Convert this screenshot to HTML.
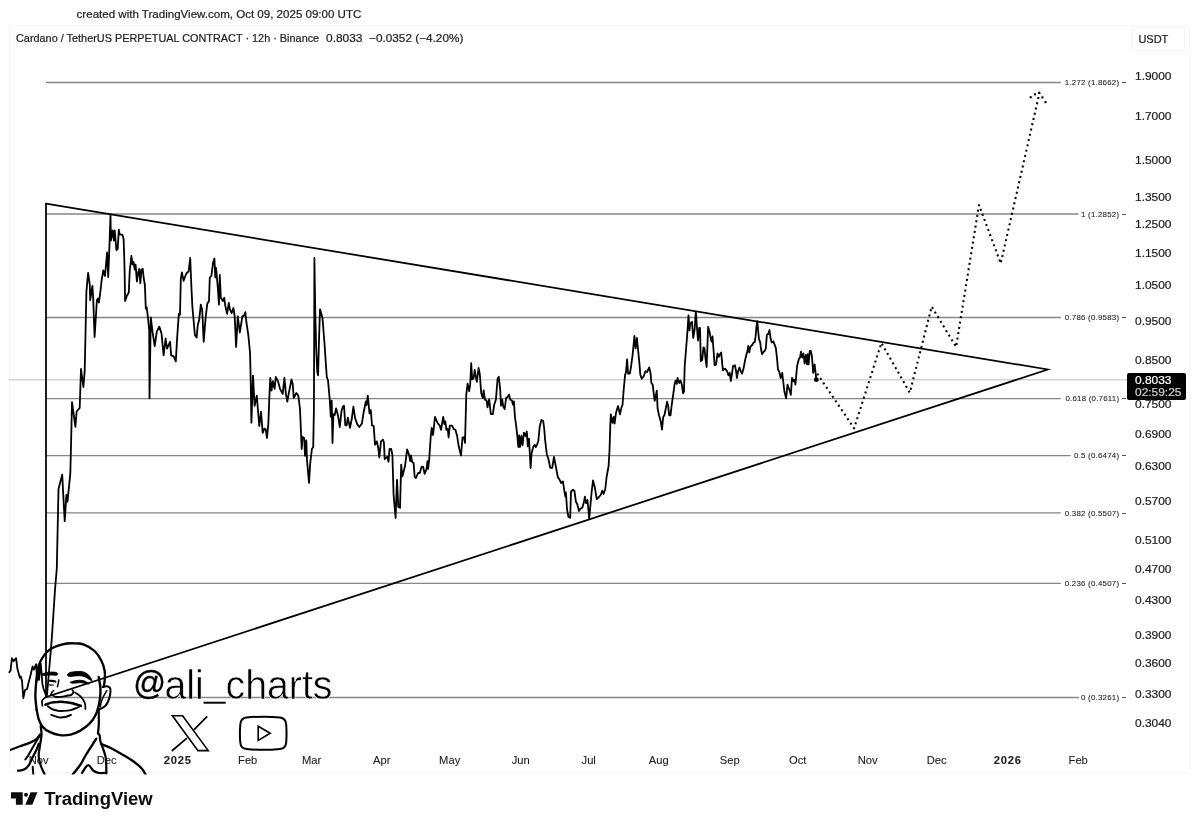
<!DOCTYPE html>
<html><head><meta charset="utf-8"><title>ADA chart</title>
<style>
html,body{margin:0;padding:0;background:#fff;}
body{width:1200px;height:826px;position:relative;overflow:hidden;font-family:"Liberation Sans",sans-serif;color:#1e1e1e;}
.t{position:absolute;white-space:nowrap;line-height:1;-webkit-text-stroke:0.22px currentColor;}
.ax{font-size:11px;left:1135px;transform:scaleX(1.085);transform-origin:0 50%;}
.tm{-webkit-text-stroke:0.1px currentColor;font-size:11.2px;transform:translateX(-50%);top:754.5px;}
.tm b{font-weight:700;letter-spacing:.8px;}
.fib{-webkit-text-stroke:0.08px currentColor;font-size:7.9px;color:#1c1c1c;text-align:right;right:73.5px;letter-spacing:.22px;}
svg{position:absolute;left:0;top:0;}
</style></head><body>

<div style="position:absolute;left:9px;top:25px;width:1181px;height:748px;border:1px solid #f7f7f7;box-sizing:border-box;"></div>
<div style="position:absolute;left:1131px;top:27.3px;width:53.5px;height:23.7px;border:1px solid #f4f4f4;border-radius:3px;box-sizing:border-box;"></div>
<div class="t" style="left:76.6px;top:9px;font-size:11.55px;">created with TradingView.com, Oct 09, 2025 09:00 UTC</div>
<div class="t" style="left:15.9px;top:33.4px;font-size:11.15px;transform:scaleX(.976);transform-origin:0 50%;">Cardano / TetherUS PERPETUAL CONTRACT · 12h · Binance</div>
<div class="t" style="left:326px;top:33.4px;font-size:11.15px;transform:scaleX(1.07);transform-origin:0 50%;">0.8033</div>
<div class="t" style="left:368.8px;top:33.4px;font-size:11.15px;transform:scaleX(1.058);transform-origin:0 50%;">−0.0352 (−4.20%)</div>
<div class="t" style="left:1138.4px;top:33.9px;font-size:11px;">USDT</div>
<div class="t ax" style="top:71.4px;">1.9000</div>
<div class="t ax" style="top:110.6px;">1.7000</div>
<div class="t ax" style="top:154.7px;">1.5000</div>
<div class="t ax" style="top:191.8px;">1.3500</div>
<div class="t ax" style="top:219.0px;">1.2500</div>
<div class="t ax" style="top:248.4px;">1.1500</div>
<div class="t ax" style="top:280.4px;">1.0500</div>
<div class="t ax" style="top:315.7px;">0.9500</div>
<div class="t ax" style="top:354.9px;">0.8500</div>
<div class="t ax" style="top:399.1px;">0.7500</div>
<div class="t ax" style="top:428.5px;">0.6900</div>
<div class="t ax" style="top:460.5px;">0.6300</div>
<div class="t ax" style="top:495.8px;">0.5700</div>
<div class="t ax" style="top:535.0px;">0.5100</div>
<div class="t ax" style="top:563.8px;">0.4700</div>
<div class="t ax" style="top:595.2px;">0.4300</div>
<div class="t ax" style="top:629.6px;">0.3900</div>
<div class="t ax" style="top:657.8px;">0.3600</div>
<div class="t ax" style="top:688.5px;">0.3300</div>
<div class="t ax" style="top:718.1px;">0.3040</div>
<div class="t tm" style="left:38.7px;">Nov</div>
<div class="t tm" style="left:106.7px;">Dec</div>
<div class="t tm" style="left:177.7px;"><b>2025</b></div>
<div class="t tm" style="left:247.7px;">Feb</div>
<div class="t tm" style="left:311.7px;">Mar</div>
<div class="t tm" style="left:381.7px;">Apr</div>
<div class="t tm" style="left:449.7px;">May</div>
<div class="t tm" style="left:520.7px;">Jun</div>
<div class="t tm" style="left:588.7px;">Jul</div>
<div class="t tm" style="left:658.7px;">Aug</div>
<div class="t tm" style="left:729.7px;">Sep</div>
<div class="t tm" style="left:797.7px;">Oct</div>
<div class="t tm" style="left:867.7px;">Nov</div>
<div class="t tm" style="left:936.7px;">Dec</div>
<div class="t tm" style="left:1007.7px;"><b>2026</b></div>
<div class="t tm" style="left:1078.2px;">Feb</div>
<svg width="1200" height="826" viewBox="0 0 1200 826">
<line x1="8.5" y1="379.85" x2="1127" y2="379.85" stroke="#d4d4d4" stroke-width="1.5"/>
<line x1="46" y1="82.5" x2="1060.8" y2="82.5" stroke="#868686" stroke-width="1.3"/>
<line x1="46" y1="214.0" x2="1078.5" y2="214.0" stroke="#868686" stroke-width="1.3"/>
<line x1="46" y1="317.5" x2="1060.8" y2="317.5" stroke="#868686" stroke-width="1.3"/>
<line x1="46" y1="398.7" x2="1060.8" y2="398.7" stroke="#868686" stroke-width="1.3"/>
<line x1="46" y1="455.7" x2="1070.5" y2="455.7" stroke="#868686" stroke-width="1.3"/>
<line x1="46" y1="512.8" x2="1060.8" y2="512.8" stroke="#868686" stroke-width="1.3"/>
<line x1="46" y1="583.4" x2="1060.8" y2="583.4" stroke="#868686" stroke-width="1.3"/>
<line x1="46" y1="697.5" x2="1079" y2="697.5" stroke="#868686" stroke-width="1.3"/>
<path d="M46,203.7 L1047.8,369.5 L46,697 Z" fill="none" stroke="#000" stroke-width="1.75" stroke-linejoin="miter" stroke-miterlimit="12"/>
<path d="M9.3,672.2 L10.6,670.5 L11.9,658.2 L13.6,661.2 L16.1,658.2 L17.4,668.8 L19.9,677.7 L20.8,676.4 L22.0,680.7 L23.3,698.0 L25.0,690.0 L27.1,689.0 L28.4,683.2 L30.5,675.6 L32.6,666.3 L33.9,669.7 L36.0,664.2 L37.3,680.7 L38.6,664.6 L39.0,679.8 L40.7,663.7 L41.5,672.2 L42.4,684.0 L43.6,689.0 L46.2,696.0 L47.0,695.0 L51.7,640.0 L55.1,588.5 L56.8,568.6 L58.5,489.0 L62.2,474.6 L64.7,521.2 L66.4,495.0 L67.5,501.7 L70.3,473.7 L70.8,455.0 L72.0,402.2 L75.4,426.8 L76.6,411.5 L79.7,408.0 L81.0,369.0 L83.4,387.0 L84.7,371.0 L85.6,330.0 L86.4,291.7 L88.1,273.0 L89.8,284.9 L90.2,300.2 L92.4,285.8 L93.2,298.5 L94.6,337.0 L96.9,300.2 L98.0,298.5 L98.8,302.7 L100.0,295.0 L101.7,279.8 L103.3,270.3 L105.0,276.0 L107.1,252.5 L108.2,277.0 L109.3,250.0 L110.5,214.7 L110.9,240.6 L112.6,230.4 L113.9,240.6 L114.7,230.4 L116.4,250.0 L117.7,249.0 L118.8,229.6 L119.8,234.7 L122.4,234.7 L123.6,239.0 L124.2,255.8 L124.6,271.4 L125.1,301.0 L126.8,296.0 L128.8,292.5 L129.7,271.4 L131.4,256.0 L132.5,264.6 L133.6,262.0 L134.7,269.7 L135.6,264.6 L136.9,281.5 L138.1,273.0 L139.3,268.8 L140.3,283.2 L141.5,269.7 L142.7,268.8 L143.7,278.0 L144.9,285.0 L145.8,308.6 L146.6,307.0 L147.5,313.7 L149.2,330.0 L149.5,398.3 L150.8,317.3 L152.5,331.7 L154.7,346.0 L156.8,331.7 L159.3,326.6 L161.5,333.4 L163.6,355.4 L165.6,338.5 L167.0,348.6 L170.0,341.9 L171.2,355.4 L173.7,356.3 L175.8,361.4 L177.1,338.5 L178.8,313.9 L180.0,314.7 L180.8,279.0 L181.9,272.4 L183.6,280.8 L186.4,273.2 L188.6,271.5 L190.2,258.0 L191.5,289.3 L192.4,307.0 L193.7,321.5 L194.9,335.0 L196.6,337.6 L197.8,325.0 L199.2,319.8 L200.8,304.6 L202.2,309.7 L203.7,341.9 L205.6,318.0 L207.3,303.7 L209.0,301.0 L209.8,277.5 L211.4,275.8 L213.0,263.0 L214.4,258.5 L215.3,277.5 L216.1,268.0 L217.8,287.6 L219.0,304.6 L219.8,275.0 L220.8,297.8 L222.9,301.0 L224.2,297.8 L225.4,306.3 L227.1,313.9 L228.8,302.9 L230.0,309.7 L231.7,313.0 L233.4,308.0 L234.7,316.4 L236.1,347.0 L237.8,316.4 L239.8,332.5 L242.4,316.4 L244.0,315.6 L245.3,312.2 L246.3,321.5 L248.3,335.0 L250.0,352.0 L250.6,375.0 L251.4,422.7 L253.0,375.6 L254.6,405.8 L256.8,395.6 L258.0,410.8 L259.3,426.0 L261.0,411.7 L262.7,432.9 L264.4,428.6 L265.8,429.5 L267.0,438.0 L268.3,424.4 L269.5,393.9 L270.3,377.8 L271.5,390.5 L272.9,381.2 L274.6,388.8 L275.8,377.0 L278.0,381.2 L280.0,388.8 L282.7,393.9 L284.4,377.8 L285.9,393.9 L287.3,401.5 L289.0,392.2 L291.5,379.5 L292.7,383.7 L293.7,398.0 L296.3,393.0 L298.3,395.6 L300.0,409.0 L301.7,449.0 L302.5,437.0 L304.2,438.0 L305.0,455.8 L306.3,440.5 L307.0,460.0 L309.0,482.9 L310.2,463.4 L311.9,449.0 L313.2,447.3 L313.9,410.8 L314.2,330.0 L314.4,258.0 L315.3,314.7 L316.2,348.6 L317.3,372.0 L318.1,375.3 L319.0,340.0 L320.0,309.3 L322.5,318.0 L324.6,345.0 L326.3,370.0 L326.8,377.0 L328.0,380.3 L329.7,399.0 L330.8,416.8 L331.7,400.7 L332.5,443.0 L333.4,414.2 L334.7,415.0 L336.1,408.3 L338.1,416.0 L339.8,427.0 L341.5,410.8 L342.9,406.6 L344.0,405.8 L345.3,425.3 L346.6,425.3 L347.8,417.6 L350.0,427.8 L351.7,419.3 L353.4,406.6 L355.0,417.6 L357.3,424.4 L359.3,427.0 L361.9,423.6 L363.6,412.5 L365.8,401.5 L366.6,405.0 L367.8,395.6 L369.5,413.4 L370.8,410.0 L372.0,425.3 L373.7,426.0 L375.0,444.7 L376.8,441.4 L378.3,448.0 L379.3,457.5 L381.0,441.4 L383.0,439.7 L383.9,442.2 L384.7,459.0 L387.3,456.6 L388.5,461.7 L389.5,449.0 L391.2,449.0 L392.4,455.0 L393.6,495.0 L395.6,518.0 L397.0,479.8 L398.3,507.0 L400.0,507.8 L401.2,464.6 L402.4,476.4 L405.0,466.3 L407.1,449.3 L409.2,455.3 L410.2,461.2 L411.0,455.3 L412.2,462.0 L413.6,462.9 L414.7,477.3 L415.9,478.0 L418.1,473.0 L419.8,473.0 L421.5,467.0 L423.2,467.0 L424.6,473.9 L426.6,468.8 L427.5,461.2 L428.1,468.8 L429.2,459.5 L430.8,435.8 L431.7,428.0 L433.0,435.0 L435.0,417.0 L437.6,423.0 L439.7,425.6 L441.0,429.8 L443.2,417.0 L444.4,424.0 L445.3,421.4 L446.4,429.8 L447.8,429.0 L448.6,437.5 L449.8,425.6 L452.0,425.6 L453.7,429.0 L455.4,429.8 L457.1,435.8 L458.8,446.8 L461.0,455.5 L462.5,437.5 L464.0,437.0 L465.0,442.9 L466.3,394.6 L467.6,383.6 L469.2,391.2 L470.2,384.4 L471.2,363.2 L472.2,379.3 L473.6,378.5 L474.7,370.0 L476.8,381.9 L478.6,368.0 L479.8,374.2 L481.2,392.9 L482.7,398.0 L483.7,390.3 L484.9,399.7 L486.6,400.5 L487.5,407.3 L489.2,399.3 L490.8,414.0 L492.9,414.0 L494.2,404.7 L495.9,399.7 L497.6,378.5 L498.8,376.8 L500.2,389.5 L501.0,405.6 L502.2,399.7 L503.2,406.4 L504.7,409.0 L506.1,398.0 L507.5,397.1 L509.0,394.6 L510.3,399.7 L512.0,400.5 L512.9,404.7 L513.9,401.4 L514.9,416.6 L516.3,426.8 L517.6,438.6 L518.3,447.0 L519.2,435.3 L520.0,447.0 L521.4,436.0 L522.5,445.4 L523.9,432.7 L525.6,436.0 L526.8,431.5 L527.8,446.3 L529.0,438.6 L530.6,468.0 L531.5,453.9 L533.2,447.0 L534.6,444.6 L535.8,447.0 L537.0,444.6 L538.3,441.2 L539.7,426.8 L541.4,420.0 L543.2,421.0 L544.2,428.5 L545.0,439.0 L546.8,454.2 L548.5,459.3 L550.2,467.8 L552.2,467.8 L554.0,456.8 L556.1,467.8 L557.8,477.0 L560.0,480.5 L561.2,483.0 L562.9,481.4 L564.6,492.4 L565.4,496.6 L565.9,492.4 L567.1,510.0 L568.5,517.0 L570.2,517.8 L571.0,491.5 L573.0,489.8 L574.4,490.7 L575.9,501.7 L577.3,504.2 L579.0,511.0 L580.7,508.5 L582.4,507.6 L584.0,501.7 L584.9,496.6 L586.1,503.4 L587.5,500.0 L589.2,518.6 L590.0,510.0 L591.7,491.5 L593.0,480.5 L594.6,486.4 L596.8,499.0 L598.5,497.5 L600.7,495.0 L602.2,490.7 L603.6,494.0 L605.3,489.0 L606.6,477.0 L608.6,466.0 L609.5,450.8 L610.3,425.4 L610.8,414.4 L612.5,422.9 L613.7,417.0 L614.6,423.7 L615.9,413.6 L618.0,406.0 L620.0,414.4 L621.4,407.6 L622.5,405.0 L623.7,389.8 L625.1,374.6 L625.9,372.9 L627.1,359.3 L628.1,373.7 L629.8,373.7 L631.0,367.0 L632.7,354.2 L634.4,336.0 L635.6,348.3 L636.9,338.0 L638.1,350.0 L639.5,364.4 L640.3,374.6 L641.7,378.8 L643.7,376.3 L645.4,371.2 L647.1,372.0 L649.2,367.5 L650.5,372.9 L651.4,383.0 L652.7,384.7 L653.6,392.4 L654.7,400.8 L655.6,396.6 L656.8,390.7 L657.6,408.5 L659.0,415.3 L660.7,421.2 L662.0,429.7 L663.2,417.0 L664.4,415.3 L665.8,408.5 L667.1,401.7 L668.3,406.8 L669.2,415.3 L670.5,415.3 L671.7,405.0 L673.4,393.2 L674.6,383.9 L675.6,380.5 L676.8,383.9 L677.6,378.0 L679.3,383.0 L680.5,380.5 L681.9,384.7 L683.0,393.2 L684.0,391.5 L684.7,366.0 L686.1,349.0 L687.5,330.5 L688.5,315.3 L689.5,330.5 L690.3,323.7 L692.0,322.0 L693.2,338.0 L694.6,329.7 L695.8,311.9 L696.8,325.4 L698.0,340.7 L699.2,328.0 L700.0,328.0 L700.8,361.0 L702.2,360.0 L703.4,347.5 L704.4,348.0 L705.6,359.3 L706.6,367.0 L707.5,344.0 L708.1,327.0 L709.5,331.4 L710.3,336.4 L711.5,341.5 L712.5,336.4 L713.6,350.8 L714.6,365.3 L716.1,364.4 L717.5,353.4 L718.8,356.8 L720.0,354.2 L721.2,352.5 L722.2,363.6 L723.0,370.3 L725.1,368.6 L727.1,371.2 L728.5,375.4 L729.7,372.9 L730.8,381.0 L731.9,374.6 L733.0,366.0 L734.9,365.3 L736.1,371.2 L736.9,378.0 L738.1,371.2 L739.5,367.5 L740.7,371.2 L742.0,373.7 L743.7,367.8 L745.1,360.0 L746.3,355.0 L747.5,350.8 L748.3,345.8 L749.2,352.5 L750.5,346.6 L752.2,345.0 L753.6,342.4 L754.7,342.4 L755.6,336.4 L756.4,327.0 L757.3,321.2 L758.1,330.5 L759.0,339.0 L760.2,342.4 L761.0,349.0 L762.0,354.2 L763.7,351.7 L764.9,350.8 L765.8,348.3 L766.9,334.7 L768.3,333.9 L769.5,330.0 L770.5,338.0 L771.7,342.4 L773.4,341.5 L774.7,344.9 L775.9,348.3 L777.1,359.3 L778.0,369.5 L779.3,372.0 L780.7,378.0 L782.2,372.9 L783.0,379.7 L784.4,391.5 L786.1,398.3 L787.5,384.7 L788.6,388.0 L789.5,389.8 L790.8,394.9 L792.0,378.0 L793.7,381.4 L794.6,379.7 L795.4,384.7 L797.1,366.0 L798.8,359.3 L800.0,357.6 L801.0,351.7 L802.2,357.6 L803.4,353.4 L804.7,363.6 L805.9,355.0 L807.1,364.4 L807.8,354.2 L808.6,364.4 L809.8,350.8 L810.7,350.8 L811.9,356.0 L813.2,372.9 L814.6,364.4 L815.8,374.6 L816.3,379.7" fill="none" stroke="#000" stroke-width="1.8" stroke-linejoin="round" stroke-linecap="round"/>
<circle cx="816.3" cy="379.7" r="2.4" fill="#000"/>
<path d="M817.2,373.6 L854.1,428.3 L881.4,342.9 L909.8,392.7 L931.7,306.6 L956.1,346.9 L979.0,205.0 L1000.7,263.4 L1039.5,92.8" fill="none" stroke="#000" stroke-width="2.05" stroke-dasharray="2 3.4" stroke-linejoin="round"/>
<rect x="1038.15" y="91.75" width="2.1" height="2.1" fill="#000"/>
<rect x="1033.95" y="93.25" width="2.1" height="2.1" fill="#000"/>
<rect x="1029.65" y="96.15" width="2.1" height="2.1" fill="#000"/>
<rect x="1041.35" y="96.35" width="2.1" height="2.1" fill="#000"/>
<rect x="1044.45" y="101.05" width="2.1" height="2.1" fill="#000"/>
</svg>
<div class="t fib" style="top:79.2px;">1.272 (1.8662) −</div>
<div class="t fib" style="top:210.7px;">1 (1.2852) −</div>
<div class="t fib" style="top:314.2px;">0.786 (0.9583) −</div>
<div class="t fib" style="top:395.4px;">0.618 (0.7611) −</div>
<div class="t fib" style="top:452.4px;">0.5 (0.6474) −</div>
<div class="t fib" style="top:509.5px;">0.382 (0.5507) −</div>
<div class="t fib" style="top:580.1px;">0.236 (0.4507) −</div>
<div class="t fib" style="top:694.2px;">0 (0.3261) −</div>
<div style="position:absolute;left:1127px;top:372.5px;width:59px;height:27.2px;background:#000;border-radius:2px;"></div>
<div class="t" style="left:1135.4px;top:374.7px;font-size:11px;color:#fff;transform:scaleX(1.085);transform-origin:0 50%;">0.8033</div>
<div class="t" style="left:1135.4px;top:387.4px;font-size:11px;color:#d0d0d0;transform:scaleX(1.085);transform-origin:0 50%;">02:59:25</div>
<svg width="1200" height="826" viewBox="0 0 1200 826">
<defs><clipPath id="pc"><rect x="10" y="600" width="400" height="174.6"/></clipPath></defs>
<g clip-path="url(#pc)" fill="none" stroke="#000" stroke-linecap="round" stroke-linejoin="round">
<path d="M36.6,709.6 C36.4,707.6 35.6,701.1 35.4,697.6 C35.3,694.0 35.4,692.0 35.7,688.3 C36.0,684.5 36.3,679.3 37.0,674.9 C37.8,670.6 37.9,666.5 40.0,662.3 C42.0,658.1 45.5,652.9 49.3,649.9 C53.1,646.9 58.6,645.4 62.6,644.3 C66.6,643.2 69.7,643.2 73.3,643.3 C76.8,643.3 80.4,643.3 83.9,644.6 C87.5,645.9 91.6,648.2 94.6,651.0 C97.5,653.7 99.8,657.6 101.5,661.0 C103.2,664.3 104.2,667.7 104.7,671.0 C105.2,674.2 104.9,677.7 104.7,680.3 C104.5,682.9 103.8,685.6 103.6,686.7" stroke-width="2.38"/>
<path d="M36.6,709.6 C37.0,711.1 37.7,716.0 38.6,718.9 C39.6,721.7 40.5,724.4 42.4,726.6 C44.3,728.8 47.0,730.8 50.0,732.2 C52.9,733.6 56.5,734.7 59.9,735.1 C63.4,735.5 67.3,735.3 70.6,734.6 C73.9,733.9 76.8,732.6 79.9,730.9 C83.0,729.1 86.6,726.6 89.2,723.9 C91.9,721.3 94.0,718.2 95.6,714.9 C97.3,711.6 98.2,707.8 99.0,704.2 C99.8,700.7 100.2,696.7 100.4,693.6 C100.6,690.5 100.5,688.4 100.2,685.6 C99.8,682.8 98.8,678.4 98.6,676.9" stroke-width="2.38"/>
<path d="M102.7,687.0 C103.3,686.9 105.1,686.2 106.3,686.3 C107.5,686.4 109.1,686.8 109.8,687.7 C110.5,688.6 110.6,689.7 110.5,691.6 C110.4,693.5 109.8,696.7 109.0,699.1 C108.2,701.4 107.0,704.1 105.6,705.7 C104.2,707.3 102.1,708.1 100.8,708.7 C99.5,709.3 98.3,709.2 97.8,709.2" stroke-width="2.00"/>
<path d="M106.8,690.6 C106.2,691.7 104.0,695.1 103.1,697.2 C102.1,699.3 101.5,701.4 101.0,703.0 C100.6,704.6 100.5,706.2 100.3,706.9" stroke-width="1.50"/>
<path d="M48.8,680.8 C49.4,680.8 51.1,680.8 52.2,680.9 C53.3,681.1 54.9,681.4 55.4,681.5" stroke-width="2.12"/>
<path d="M49.2,684.7 C49.5,684.7 50.5,685.0 51.2,685.1 C51.9,685.1 53.0,685.0 53.4,685.0" stroke-width="1.12"/>
<path d="M58.7,680.0 C58.7,680.5 58.6,682.1 58.3,683.2 C58.1,684.3 57.6,686.1 57.4,686.7" stroke-width="1.50"/>
<path d="M51.4,694.4 C52.1,694.8 54.0,696.4 55.7,696.8 C57.3,697.2 59.4,696.8 61.3,696.7 C63.1,696.5 65.2,696.0 66.9,695.7 C68.6,695.4 70.3,695.5 71.4,694.9 C72.5,694.3 73.2,692.8 73.4,692.0 C73.6,691.2 72.6,690.4 72.5,690.1" stroke-width="1.88"/>
<path d="M50.9,694.7 C51.1,694.2 51.5,692.7 52.0,692.0 C52.4,691.3 53.3,690.9 53.6,690.7" stroke-width="1.62"/>
<path d="M75.1,692.5 C76.1,693.2 79.4,695.1 81.0,696.8 C82.6,698.5 84.1,700.9 84.8,702.9 C85.6,705.0 85.3,708.0 85.4,709.0" stroke-width="1.75"/>
<path d="M45.0,697.6 C44.5,698.1 42.5,699.4 42.1,700.8 C41.7,702.2 42.3,705.0 42.4,705.8" stroke-width="1.75"/>
<path d="M45.4,704.7 C46.4,704.3 49.2,703.1 51.2,702.6 C53.1,702.2 55.0,702.0 57.1,701.9 C59.2,701.7 61.4,701.6 63.9,701.9 C66.4,702.1 69.5,702.6 72.4,703.3 C75.2,704.0 79.4,705.4 80.8,705.8" stroke-width="2.50"/>
<path d="M47.8,706.2 C48.5,706.7 50.3,708.5 52.0,709.2 C53.7,710.0 56.0,710.5 58.0,710.8 C59.9,711.0 61.8,711.0 63.9,710.9 C66.0,710.8 68.5,710.6 70.7,710.1 C72.9,709.6 75.3,708.6 77.0,707.9 C78.7,707.2 80.2,706.2 80.8,705.8" stroke-width="1.88"/>
<path d="M51.3,714.9 C52.5,715.3 56.3,716.9 58.6,717.3 C60.9,717.6 63.2,717.4 65.3,717.0 C67.3,716.6 70.0,715.2 71.0,714.9" stroke-width="2.00"/>
<path d="M40.7,726.0 C40.8,727.4 41.6,731.4 41.5,734.7 C41.4,737.9 40.5,741.8 40.0,745.3 C39.5,748.9 38.6,752.7 38.7,756.0 C38.8,759.3 39.7,762.3 40.7,765.3 C41.7,768.4 44.0,772.9 44.7,774.4" stroke-width="2.25"/>
<path d="M10.0,750.0 C11.7,749.4 16.6,747.5 20.0,746.3 C23.4,745.0 27.9,743.6 30.7,742.4 C33.4,741.2 35.1,740.3 36.7,738.9 C38.2,737.6 39.6,735.2 40.1,734.4" stroke-width="2.25"/>
<path d="M40.0,735.3 C39.0,737.0 35.9,742.1 34.0,745.3 C32.1,748.6 30.1,752.3 28.7,754.7 C27.2,757.0 25.9,758.7 25.3,759.5" stroke-width="2.00"/>
<path d="M18.0,770.7 C19.0,770.5 22.2,770.5 24.0,769.6 C25.8,768.7 27.1,767.6 28.7,765.3 C30.2,763.1 32.0,758.7 33.3,756.0 C34.7,753.3 35.8,751.4 36.7,749.3 C37.6,747.3 38.4,744.7 38.8,743.7" stroke-width="2.25"/>
<path d="M32.7,766.7 L33.3,774.4" stroke-width="2.00"/>
<path d="M98.7,710.0 C98.7,712.3 98.9,720.1 98.8,724.0 C98.7,727.9 98.1,731.8 98.0,733.3" stroke-width="2.25"/>
<path d="M98.0,733.3 C98.3,733.7 99.3,734.4 99.7,735.7 C100.1,737.1 99.8,739.1 100.4,741.3 C101.0,743.6 102.4,746.4 103.3,749.3 C104.2,752.2 105.4,754.6 105.9,758.7 C106.4,762.7 106.3,771.1 106.4,773.6" stroke-width="2.25"/>
<path d="M96.3,738.7 C95.6,739.8 93.8,742.4 92.0,745.3 C90.2,748.2 87.3,752.7 85.3,756.0 C83.3,759.3 82.1,762.3 80.0,765.3 C77.9,768.4 73.9,772.9 72.7,774.4" stroke-width="2.38"/>
<path d="M82.0,772.9 C83.0,771.6 86.1,765.4 88.0,765.1 C89.9,764.7 91.4,769.3 93.3,770.7 C95.2,772.0 97.2,772.7 99.3,773.1 C101.5,773.4 105.0,772.8 106.1,772.8" stroke-width="2.25"/>
<path d="M101.3,744.0 C102.9,744.7 107.1,746.2 110.7,748.0 C114.2,749.8 118.9,752.4 122.7,754.7 C126.4,756.9 130.2,759.1 133.3,761.3 C136.4,763.6 139.3,765.8 141.3,768.0 C143.4,770.2 145.0,773.6 145.7,774.7" stroke-width="2.38"/>
<path d="M67.5,674.7 C67.7,674.0 68.5,673.1 69.8,672.6 C71.2,672.1 73.8,671.8 75.8,671.6 C77.7,671.4 79.9,671.3 81.7,671.6 C83.5,671.9 85.0,672.5 86.4,673.3 C87.7,674.2 89.1,675.5 90.0,676.7 C90.9,677.9 92.1,680.1 92.0,680.6 C91.9,681.0 90.5,680.0 89.3,679.4 C88.2,678.8 86.6,677.5 85.1,676.9 C83.5,676.2 81.8,675.8 80.0,675.7 C78.2,675.5 75.9,675.9 74.1,676.0 C72.3,676.2 70.2,676.8 69.2,676.5 C68.1,676.3 67.4,675.3 67.5,674.7Z" fill="#000" stroke="#000" stroke-width="0.9"/>
<path d="M70.7,682.1 C71.4,681.7 74.1,680.9 75.8,680.6 C77.5,680.3 79.2,680.1 80.8,680.3 C82.5,680.4 84.1,680.8 85.5,681.4 C86.9,682.1 89.4,683.7 89.3,684.0 C89.3,684.3 86.6,683.5 85.1,683.3 C83.5,683.1 81.6,682.7 80.0,682.6 C78.4,682.6 76.7,683.0 75.3,683.1 C74.0,683.1 72.5,683.3 71.7,683.1 C70.9,683.0 70.0,682.5 70.7,682.1Z" fill="#000" stroke="#000" stroke-width="0.9"/>
<path d="M42.4,674.2 C42.9,673.7 44.6,673.0 46.1,672.6 C47.6,672.3 49.5,672.1 51.2,672.1 C52.9,672.1 55.2,672.2 56.3,672.5 C57.3,672.7 57.5,673.2 57.6,673.6 C57.7,674.1 57.5,674.9 56.9,675.2 C56.4,675.4 55.8,675.2 54.6,675.2 C53.3,675.1 51.5,675.0 49.5,675.0 C47.5,675.0 43.9,675.5 42.7,675.3 C41.5,675.2 41.8,674.6 42.4,674.2Z" fill="#000" stroke="#000" stroke-width="0.9"/>
</g>
<text transform="translate(133.2,698.6) scale(0.958,1)" font-family="Liberation Sans, sans-serif" font-size="41" fill="#000" stroke="#fff" stroke-width="0.55"><tspan font-size="33.7" dy="-4.8" stroke="#000" stroke-width="0.35">@</tspan><tspan x="32.57" dy="4.8">ali</tspan><tspan dy="-2.6">_</tspan><tspan dy="2.6">charts</tspan></text>
<path d="M172.4,715.8 L182.6,715.8 L208.2,750.6 L198,750.6 Z" fill="#fff" stroke="#000" stroke-width="1.6" stroke-linejoin="miter"/>
<path d="M207.2,716.3 L193.9,729.9 M186.9,738.2 L171.8,751" fill="none" stroke="#000" stroke-width="1.7"/>
<path d="M246.5,717.6 C256,716.6 270,716.4 280,717.4 C284.5,718 286,720.5 286.2,724.5 C286.6,730 286.6,737 286.2,742.5 C285.8,746.8 284,748.6 280,749 C270,750 256,750 246.5,749 C242.5,748.6 240.6,746.8 240.3,742.5 C239.8,737 239.8,730 240.3,724.5 C240.6,720.4 242.3,718.1 246.5,717.6 Z" fill="none" stroke="#000" stroke-width="2"/>
<path d="M258.2,726.2 L270.2,733.2 L258.2,740.4 Z" fill="none" stroke="#000" stroke-width="1.6" stroke-linejoin="miter"/>
</svg>
<svg width="1200" height="826" viewBox="0 0 1200 826">
<path d="M11,792.3 H22.7 V804.8 H15.9 V798.4 H11 Z" fill="#0c0c0c"/>
<circle cx="26.0" cy="794.7" r="2.0" fill="#0c0c0c"/>
<path d="M30.6,792.3 H37.5 L32.3,804.8 H25.3 Z" fill="#0c0c0c"/>
<text x="44.2" y="804.8" font-family="Liberation Sans, sans-serif" font-weight="700" font-size="18" fill="#0c0c0c" textLength="108.5" lengthAdjust="spacingAndGlyphs">TradingView</text>
</svg>
</body></html>
